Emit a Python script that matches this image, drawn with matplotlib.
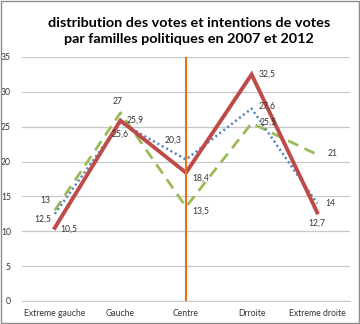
import matplotlib.pyplot as plt

categories = ['Extreme gauche', 'Gauche', 'Centre', 'Drroite', 'Extreme droite']
serie_rouge = [10.5, 25.9, 18.4, 32.5, 12.7]
serie_bleue = [12.5, 25.6, 20.3, 27.6, 14]
serie_verte = [13, 27, 13.5, 25.5, 21]
yticks = [0, 5, 10, 15, 20, 25, 30, 35]

# label offsets in pixels (dx, dy, ha) per series, tuned by eye
off_rouge = [(6, -1, 'left'), (6, 0, 'left'), (6, -5, 'left'), (7, 0, 'left'), (0, -11, 'center')]
off_bleue = [(-3, -5, 'right'), (0, -12, 'center'), (-4, 19, 'right'), (7, 2, 'left'), (8, 0, 'left')]
off_verte = [(-4, 10, 'right'), (-3, 11, 'center'), (6, -4, 'left'), (8, 1, 'left'), (10, 1, 'left')]

plt.rcParams['font.family'] = ['Lato', 'DejaVu Sans']

fig = plt.figure(figsize=(3.6, 3.24), dpi=100)
ax = fig.add_axes([22 / 360, 1 - 301 / 324, 328 / 360, 244 / 324])

x = range(len(categories))
ax.plot(x, serie_verte, color='#9BBB59', lw=2.0, ls=(0, (4, 2.5)), zorder=3)
ax.plot(x, serie_bleue, color='#4F81BD', lw=1.8, ls=(0, (0.8, 1.2)), zorder=3)
ax.plot(x, serie_rouge, color='#BE4B48', lw=2.8, solid_joinstyle='miter', zorder=4)
ax.axvline(2, ymin=0, ymax=1.0, color='#E8711C', lw=1.5, zorder=5)

def fmt(v):
    return (f'{v:g}').replace('.', ',')

for serie, offs in [(serie_rouge, off_rouge), (serie_bleue, off_bleue), (serie_verte, off_verte)]:
    for i, v in enumerate(serie):
        dx, dy, ha = offs[i]
        ax.annotate(fmt(v), (i, v), xytext=(dx, dy), textcoords='offset pixels',
                    ha=ha, va='center', fontsize=6.2, color='#333333', zorder=6)

ax.set_xlim(-0.5, len(categories) - 0.5)
ax.set_ylim(0, 35)
ax.set_yticks(yticks)
ax.set_xticks(list(x))
ax.set_xticklabels(categories)
ax.tick_params(axis='both', length=0, labelsize=6.2, colors='#333333')
ax.tick_params(axis='y', pad=8)
ax.tick_params(axis='x', pad=6)
ax.grid(axis='y', color='#C8C8C8', lw=0.9)
ax.set_axisbelow(True)
for s in ['top', 'right', 'left']:
    ax.spines[s].set_visible(False)
ax.spines['bottom'].set_color('#C8C8C8')

fig.text(0.525, 1 - 31 / 324, 'distribution des votes et intentions de votes\npar familles politiques en 2007 et 2012',
         ha='center', va='center', fontsize=10.4, fontweight='bold', linespacing=1.4)

fig.patches.append(plt.Rectangle((0.002, 0.002), 0.996, 0.996, transform=fig.transFigure,
                                 fill=False, edgecolor='#8C8C8C', lw=1))

fig.savefig('out.png', dpi=100)
